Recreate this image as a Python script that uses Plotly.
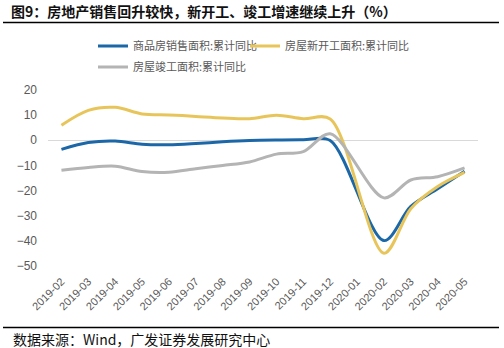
import plotly.graph_objects as go

months = ["2019-02", "2019-03", "2019-04", "2019-05", "2019-06", "2019-07", "2019-08",
          "2019-09", "2019-10", "2019-11", "2019-12", "2020-01", "2020-02", "2020-03",
          "2020-04", "2020-05"]
sales_area = [-3.6, -0.9, -0.3, -1.6, -1.8, -1.3, -0.6, -0.1, 0.1, 0.2, -0.1, None,
              -39.9, -26.3, -19.3, -12.3]
new_starts = [6.0, 11.9, 13.1, 10.5, 10.1, 9.5, 8.9, 8.6, 10.0, 8.6, 8.5, None,
              -44.9, -27.2, -18.4, -12.8]
completions = [-11.9, -10.8, -10.3, -12.4, -12.7, -11.3, -10.0, -8.6, -5.5, -4.5, 2.6, None,
               -22.9, -15.8, -14.5, -11.0]
names = ["商品房销售面积:累计同比", "房屋新开工面积:累计同比", "房屋竣工面积:累计同比"]
title_text = "图9：房地产销售回升较快，新开工、竣工增速继续上升（%）"
source_text = "数据来源：Wind，广发证券发展研究中心"

W, H = 504, 348
L, R, T, B = 48, 26, 90, 82
pw, ph = W - L - R, H - T - B

def px_x(x):
    return (x - L) / pw

def px_y(y):
    return (H - B - y) / ph

font_cjk = "Noto Sans CJK SC"
fig = go.Figure()
series = [(sales_area, "#1B67A8", "legend"), (new_starts, "#E8C55A", "legend3"),
          (completions, "#B4B4B4", "legend2")]
for (vals, color, lg), nm in zip(series, names):
    fig.add_trace(go.Scatter(x=months, y=vals, name=nm, mode="lines",
                             line=dict(color=color, width=3, shape="spline", smoothing=0.9),
                             connectgaps=True, legend=lg))

leg_font = dict(family=font_cjk, size=11, color="#595959")
def leg(xp, yp):
    return dict(orientation="h", x=px_x(xp), y=px_y(yp), xanchor="left", yanchor="middle",
                font=leg_font, bgcolor="rgba(0,0,0,0)")

fig.update_layout(
    width=W, height=H,
    margin=dict(l=L, r=R, t=T, b=B),
    paper_bgcolor="white", plot_bgcolor="white",
    showlegend=True,
    legend=leg(93, 46),
    legend3=leg(245, 46),
    legend2=leg(93, 67),
    title=dict(text="<b>" + title_text + "</b>", xref="container", yref="container",
               x=11 / W, y=1 - 12 / H, xanchor="left", yanchor="middle",
               font=dict(family=font_cjk, size=14, color="#111111")),
    xaxis=dict(type="category", range=[-0.5, 15.5], showgrid=False, showline=False,
               ticks="", tickangle=-45, tickfont=dict(family="Liberation Sans", size=11, color="#595959"),
               ticklabelstandoff=6),
    yaxis=dict(range=[-50, 20], dtick=10, showgrid=False, showline=False, zeroline=True,
               zerolinecolor="#D9D9D9", zerolinewidth=1, ticks="",
               tickfont=dict(family="Liberation Sans", size=12, color="#595959"),
               ticklabelstandoff=10),
    shapes=[
        dict(type="line", xref="paper", yref="paper", x0=px_x(3), x1=px_x(499),
             y0=px_y(22.5), y1=px_y(22.5), line=dict(color="#000000", width=1.6)),
        dict(type="line", xref="paper", yref="paper", x0=px_x(3), x1=px_x(499),
             y0=px_y(327.5), y1=px_y(327.5), line=dict(color="#000000", width=1.4)),
    ],
    annotations=[
        dict(text=source_text, xref="paper", yref="paper", x=px_x(11), y=px_y(339),
             xanchor="left", yanchor="middle", showarrow=False,
             font=dict(family=font_cjk, size=14, color="#111111")),
    ],
)

fig.write_html("out.html")
